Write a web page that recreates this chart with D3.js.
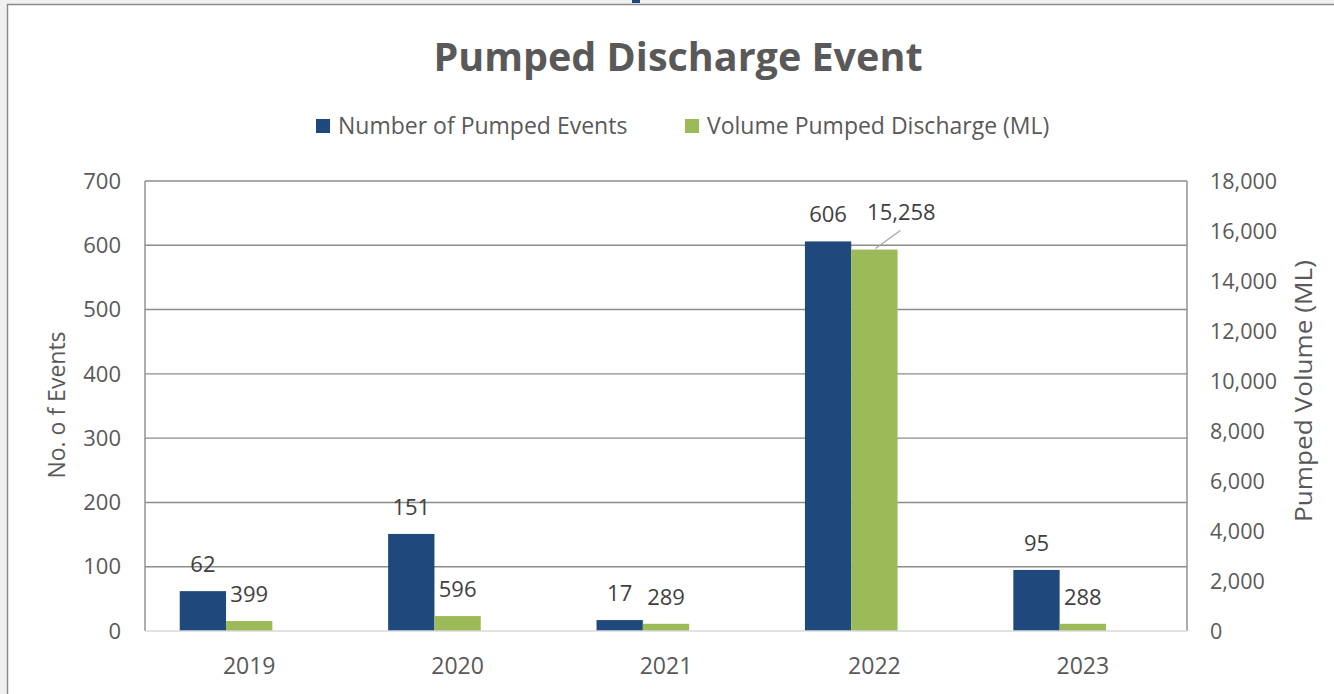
<!DOCTYPE html>
<html>
<head>
<meta charset="utf-8">
<script src="https://cdn.jsdelivr.net/npm/d3@7"></script>
<style>
  body { margin: 0; background: #ffffff; }
  svg { display: block; font-family: "Open Sans", Lato, sans-serif; }
</style>
</head>
<body>
<div id="chart"></div>
<script>
// chart data
var years = ["2019", "2020", "2021", "2022", "2023"];
var events = [62, 151, 17, 606, 95];
var volume = [399, 596, 289, 15258, 288];
var leftTicks = [0, 100, 200, 300, 400, 500, 600, 700];
var rightTicks = [0, 2000, 4000, 6000, 8000, 10000, 12000, 14000, 16000, 18000];
var seriesNames = ["Number of Pumped Events", "Volume Pumped Discharge (ML)"];

var width = 1334, height = 694;
var margin = { top: 181, right: 147, bottom: 63, left: 145 };
var textColor = "#595959";
var blue = "#1f497d", green = "#9bbb59";

var svg = d3.select("#chart")
  .append("svg")
  .attr("width", width)
  .attr("height", height);

// outer frame
svg.append("rect").attr("width", width).attr("height", height).attr("fill", "#f0f0f0");
svg.append("rect")
  .attr("x", 7.5).attr("y", 4.5)
  .attr("width", width + 10).attr("height", height + 10)
  .attr("fill", "#ffffff").attr("stroke", "#8a8a8a").attr("stroke-width", 1.5);
svg.append("rect").attr("x", 632).attr("y", 0).attr("width", 8).attr("height", 3).attr("fill", blue);

var plotL = margin.left, plotR = width - margin.right;
var plotT = margin.top, plotB = height - margin.bottom;

var x0 = d3.scaleBand().domain(years).range([plotL, plotR]).padding(0);
// three slots per category (third left empty), gap width 150%
var slot = x0.bandwidth() / 4.5;
var x1 = d3.scaleBand().domain(["events", "volume", "blank"]).range([0, slot * 3]).padding(0);
var groupStart = function(y) { return x0(y) + slot * 0.75; };

var yL = d3.scaleLinear().domain([0, 700]).range([plotB, plotT]);
var yR = d3.scaleLinear().domain([0, 18000]).range([plotB, plotT]);

// gridlines
svg.append("g").selectAll("line")
  .data(leftTicks.slice(1))
  .enter().append("line")
  .attr("x1", plotL).attr("x2", plotR)
  .attr("y1", function(d) { return yL(d); })
  .attr("y2", function(d) { return yL(d); })
  .attr("stroke", "#8c8c8c").attr("stroke-width", 1.4);

// plot area sides
svg.append("line").attr("x1", plotL).attr("x2", plotL).attr("y1", plotT).attr("y2", plotB)
  .attr("stroke", "#8c8c8c").attr("stroke-width", 1.4);
svg.append("line").attr("x1", plotR).attr("x2", plotR).attr("y1", plotT).attr("y2", plotB)
  .attr("stroke", "#8c8c8c").attr("stroke-width", 1.4);

// bars
var rows = years.map(function(y, i) { return { year: y, events: events[i], volume: volume[i] }; });

svg.append("g").selectAll("rect.ev")
  .data(rows).enter().append("rect")
  .attr("x", function(d) { return groupStart(d.year) + x1("events"); })
  .attr("width", x1.bandwidth())
  .attr("y", function(d) { return yL(d.events); })
  .attr("height", function(d) { return plotB - yL(d.events); })
  .attr("fill", blue);

svg.append("g").selectAll("rect.vol")
  .data(rows).enter().append("rect")
  .attr("x", function(d) { return groupStart(d.year) + x1("volume"); })
  .attr("width", x1.bandwidth())
  .attr("y", function(d) { return yR(d.volume); })
  .attr("height", function(d) { return plotB - yR(d.volume); })
  .attr("fill", green);

// category axis line
svg.append("line").attr("x1", plotL).attr("x2", plotR).attr("y1", plotB).attr("y2", plotB)
  .attr("stroke", "#d9d9d9").attr("stroke-width", 1.5);

// data labels
var fmt = d3.format(",");
svg.append("g").selectAll("text")
  .data(rows).enter().append("text")
  .attr("x", function(d) { return groupStart(d.year) + x1("events") + x1.bandwidth() / 2; })
  .attr("y", function(d) { return yL(d.events) - 19; })
  .attr("text-anchor", "middle")
  .attr("font-size", 22).attr("fill", "#404040")
  .text(function(d) { return d.events; });

svg.append("g").selectAll("text")
  .data(rows).enter().append("text")
  .attr("x", function(d) {
    var cx = groupStart(d.year) + x1("volume") + x1.bandwidth() / 2;
    return d.volume > 10000 ? cx + 27 : cx;
  })
  .attr("y", function(d) { return yR(d.volume) - (d.volume > 10000 ? 30 : 19); })
  .attr("text-anchor", "middle")
  .attr("font-size", 22).attr("fill", "#404040")
  .text(function(d) { return fmt(d.volume); });

// leader line for the moved label
rows.filter(function(d) { return d.volume > 10000; }).forEach(function(d) {
  var cx = groupStart(d.year) + x1("volume") + x1.bandwidth() / 2;
  svg.append("line")
    .attr("x1", cx + 1).attr("y1", yR(d.volume) - 1)
    .attr("x2", cx + 26).attr("y2", yR(d.volume) - 19)
    .attr("stroke", "#a6a6a6").attr("stroke-width", 1.3);
});

// left axis labels
svg.append("g").selectAll("text")
  .data(leftTicks).enter().append("text")
  .attr("x", 121)
  .attr("y", function(d) { return yL(d); })
  .attr("dy", "0.35em")
  .attr("text-anchor", "end")
  .attr("font-size", 22).attr("fill", textColor)
  .text(function(d) { return d; });

// right axis labels
svg.append("g").selectAll("text")
  .data(rightTicks).enter().append("text")
  .attr("x", 1210)
  .attr("y", function(d) { return yR(d); })
  .attr("dy", "0.35em")
  .attr("text-anchor", "start")
  .attr("font-size", 21.5).attr("fill", textColor)
  .text(function(d) { return fmt(d); });

// category labels
svg.append("g").selectAll("text")
  .data(years).enter().append("text")
  .attr("x", function(d) { return x0(d) + x0.bandwidth() / 2; })
  .attr("y", 666)
  .attr("dy", "0.35em")
  .attr("text-anchor", "middle")
  .attr("font-size", 23).attr("fill", textColor)
  .text(function(d) { return d; });

// axis titles
svg.append("text")
  .attr("transform", "translate(57,405) rotate(-90)")
  .attr("text-anchor", "middle").attr("dy", "0.35em")
  .attr("font-size", 23).attr("fill", textColor)
  .text("No. o f Events");

svg.append("text")
  .attr("transform", "translate(1304,391) rotate(-90)")
  .attr("text-anchor", "middle").attr("dy", "0.35em")
  .attr("font-size", 24).attr("fill", textColor)
  .attr("textLength", 262).attr("lengthAdjust", "spacingAndGlyphs")
  .text("Pumped Volume (ML)");

// title
svg.append("text")
  .attr("x", 678).attr("y", 71)
  .attr("text-anchor", "middle")
  .attr("font-size", 39.5).attr("font-weight", "bold").attr("fill", textColor)
  .text("Pumped Discharge Event");

// legend
var legendX = [316, 685];
var legendColors = [blue, green];
var lg = svg.append("g").selectAll("g")
  .data(seriesNames).enter().append("g")
  .attr("transform", function(d, i) { return "translate(" + legendX[i] + ",119)"; });
lg.append("rect").attr("width", 14).attr("height", 14)
  .attr("fill", function(d, i) { return legendColors[i]; });
lg.append("text").attr("x", 22).attr("y", 7).attr("dy", "0.35em")
  .attr("font-size", 23).attr("fill", textColor)
  .text(function(d) { return d; });
</script>
</body>
</html>
